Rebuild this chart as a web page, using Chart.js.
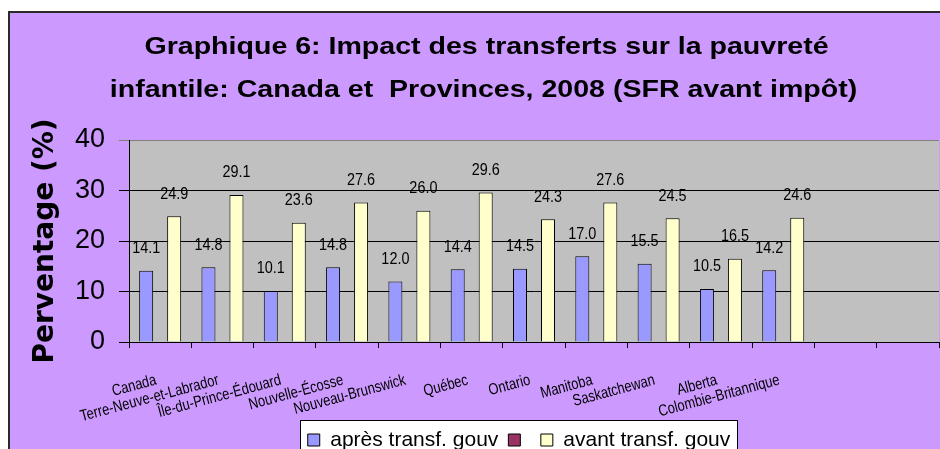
<!DOCTYPE html>
<html><head><meta charset="utf-8">
<script src="https://cdn.jsdelivr.net/npm/chart.js@4.4.1/dist/chart.umd.min.js"></script>
<style>
html,body{margin:0;padding:0;width:940px;height:449px;overflow:hidden;background:#fff;}
#frame{position:absolute;left:8px;top:11px;width:1000px;height:500px;background:#CC99FF;border-left:2px solid #2a2a2a;border-top:2px solid #2a2a2a;}
#c{position:absolute;left:0;top:0;}
</style></head><body>
<div id="frame"></div>
<canvas id="c" width="970" height="470"></canvas>
<script>
const categories = ['Canada','Terre-Neuve-et-Labrador','Île-du-Prince-Édouard','Nouvelle-Écosse','Nouveau-Brunswick','Québec','Ontario','Manitoba','Saskatchewan','Alberta','Colombie-Britannique'];
const emptySlots = ['', ''];
const apres = [14.1, 14.8, 10.1, 14.8, 12.0, 14.4, 14.5, 17.0, 15.5, 10.5, 14.2];
const avant = [24.9, 29.1, 23.6, 27.6, 26.0, 29.6, 24.3, 27.6, 24.5, 16.5, 24.6];
const seriesNames = ['après transf. gouv', '', 'avant transf. gouv'];
const titleLines = ['Graphique 6: Impact des transferts sur la pauvreté', 'infantile: Canada et  Provinces, 2008 (SFR avant impôt)'];
const yTitle = 'Perventage (%)';
const yTicks = {min: 0, max: 40, step: 10};

const ARIAL = '"Liberation Sans", Arial, sans-serif';

function scaledText(ctx, text, x, y, sx, rot) {
  ctx.save();
  ctx.translate(x, y);
  if (rot) ctx.rotate(rot);
  ctx.scale(sx, 1);
  ctx.fillText(text, 0, 0);
  ctx.restore();
}

const plotBg = {
  id: 'plotBg',
  beforeDraw(chart) {
    const {ctx, chartArea: a} = chart;
    ctx.save();
    ctx.fillStyle = '#C0C0C0';
    ctx.fillRect(a.left, a.top, a.right - a.left, a.bottom - a.top);
    const lg = chart.legend;
    const hb = lg && lg.legendHitBoxes;
    if (hb && hb.length) {
      const l = Math.round(Math.min(...hb.map(h => h.left)) - 8);
      const r = Math.round(Math.max(...hb.map(h => h.left + h.width)) + 7);
      const t = Math.round(lg.top);
      ctx.fillStyle = '#fff';
      ctx.fillRect(l, t, r - l, 100);
      ctx.strokeStyle = '#000';
      ctx.lineWidth = 1;
      ctx.strokeRect(l + 0.5, t + 0.5, r - l, 100);
    }
    ctx.restore();
  }
};

const shiftLegend = {
  id: 'shiftLegend',
  afterLayout(chart) {
    chart.legend.left += 45.5; chart.legend.right += 45.5;
  }
};

const texts = {
  id: 'texts',
  afterDraw(chart) {
    const ctx = chart.ctx;
    ctx.save();
    ctx.fillStyle = '#000';
    // title (wide bold face)
    ctx.font = 'bold 24px ' + ARIAL;
    ctx.textAlign = 'center';
    ctx.textBaseline = 'middle';
    const cx = (chart.chartArea.left + chart.chartArea.right) / 2 - 49;
    scaledText(ctx, titleLines[0], cx + 1.5, chart.chartArea.top - 93, 1.19, 0);
    scaledText(ctx, titleLines[1], cx - 1.5, chart.chartArea.top - 50, 1.19, 0);
    // category labels (narrow face, rotated)
    const xs = chart.scales.x;
    ctx.font = '16px ' + ARIAL;
    ctx.textAlign = 'right';
    ctx.textBaseline = 'middle';
    categories.forEach((c, i) => {
      scaledText(ctx, c, xs.getPixelForTick(i) - 4, xs.top + 38, 0.81, -15 * Math.PI / 180);
    });
    ctx.restore();
  },
  afterDatasetsDraw(chart) {
    const ctx = chart.ctx;
    ctx.save();
    ctx.font = '16px ' + ARIAL;
    ctx.fillStyle = '#000';
    ctx.textAlign = 'center';
    ctx.textBaseline = 'middle';
    chart.data.datasets.forEach((ds, i) => {
      const meta = chart.getDatasetMeta(i);
      meta.data.forEach((bar, j) => {
        const v = ds.data[j];
        if (v == null) return;
        scaledText(ctx, v.toFixed(1), bar.x, bar.y - 22, 0.9, 0);
      });
    });
    ctx.restore();
  }
};

new Chart(document.getElementById('c'), {
  type: 'bar',
  data: {
    labels: categories.concat(emptySlots),
    datasets: [
      {label: seriesNames[0], data: apres, backgroundColor: '#9999FF', borderColor: '#000', borderWidth: 1},
      {label: seriesNames[1], data: categories.map(() => null), backgroundColor: '#993366', borderColor: '#000', borderWidth: 1},
      {label: seriesNames[2], data: avant, backgroundColor: '#FFFFCC', borderColor: '#000', borderWidth: 1}
    ]
  },
  options: {
    responsive: false,
    animation: false,
    datasets: {bar: {barPercentage: 1, categoryPercentage: 0.674}},
    layout: {padding: {left: 8, right: 31, top: 140, bottom: 9.5}},
    plugins: {
      title: {display: false},
      legend: {position: 'bottom',
        labels: {boxWidth: 12, boxHeight: 12, padding: 10, color: '#000', font: {family: ARIAL, size: 21}}},
      tooltip: {enabled: false}
    },
    scales: {
      x: {
        grid: {display: true, drawOnChartArea: false, drawTicks: true, tickLength: 6, color: '#000', offset: true},
        border: {color: '#000', width: 1},
        ticks: {display: false},
        afterFit(s) { s.height = 77.5; }
      },
      y: {
        min: yTicks.min, max: yTicks.max,
        ticks: {stepSize: yTicks.step, color: '#000', padding: 14, font: {family: ARIAL, size: 27}},
        grid: {color: (c) => (c.tick && c.tick.value === yTicks.max) ? '#808080' : '#000', tickLength: 10},
        border: {color: '#000'},
        title: {display: true, text: yTitle, color: '#000', font: {family: '"DejaVu Sans", sans-serif', weight: 'bold', size: 28}, padding: {top: 21, bottom: 0}},
        afterFit(s) { s.width = 121; }
      }
    }
  },
  plugins: [plotBg, shiftLegend, texts]
});
</script>
</body></html>
